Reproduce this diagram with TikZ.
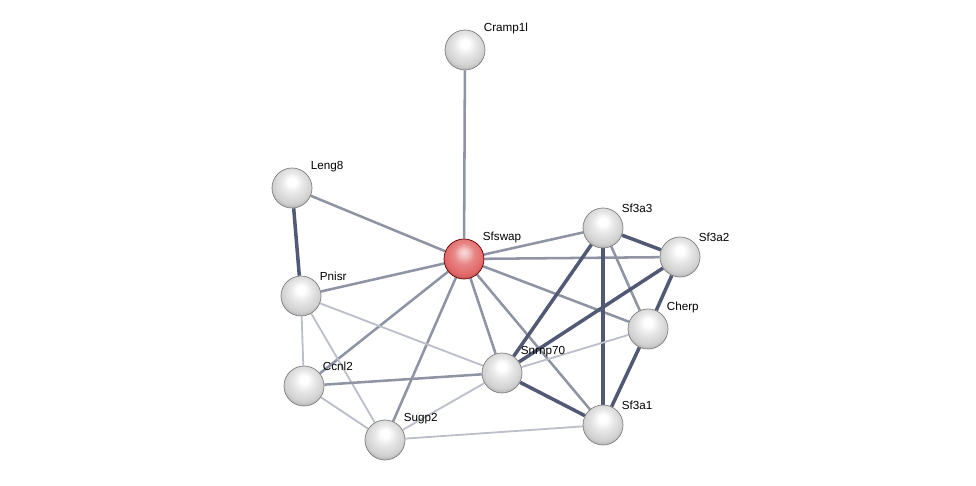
\documentclass[tikz,border=0pt]{standalone}
\usepackage{fontspec}
\setmainfont{Liberation Sans}
\usetikzlibrary{backgrounds}
\definecolor{slate}{RGB}{52,60,92}
\definecolor{redball}{RGB}{226,104,104}
\pgfdeclareradialshading{protball}{\pgfpoint{0bp}{9bp}}{color(0bp)=(white); color(5bp)=(white);
  color(13bp)=(black!9); color(24bp)=(black!18); color(31bp)=(black!34); color(50bp)=(black!48)}
\pgfdeclareradialshading{queryball}{\pgfpoint{0bp}{9bp}}{color(0bp)=(redball!25!white); color(5bp)=(redball!40!white);
  color(13bp)=(redball!80!white); color(24bp)=(redball); color(31bp)=(redball!75!black); color(50bp)=(redball!50!black)}

\begin{document}
\begin{tikzpicture}[x=0.025cm, y=-0.025cm,
prot/.style={circle, minimum size=1cm, inner sep=0pt, draw=black!50, line width=0.5pt, shading=protball,
  label={[lbl]45:#1}},
query/.style={prot=#1, draw=red!40!black, shading=queryball},
lbl/.style={font=\fontsize{8.3}{9}\selectfont, inner sep=1pt, label distance=0.1cm, yshift=-0.08cm},
strong/.style={draw=slate!85, line width=2.5pt},
mid/.style={draw=slate!55, line width=1.8pt},
weak/.style={draw=slate!33, line width=1.3pt}]

\useasboundingbox (0,0) rectangle (976,486);

% proteins
\node [query=Sfswap] (sfswap) at (464,259) {};
\node [prot=Cramp1l] (cramp) at (465,50) {};
\node [prot=Leng8] (leng) at (292,188) {};
\node [prot=Pnisr] (pnisr) at (301,296) {};
\node [prot=Ccnl2] (ccnl) at (304,386) {};
\node [prot=Sugp2] (sugp) at (385,440) {};
\node [prot=Snrnp70] (snrnp) at (502,373) {};
\node [prot=Sf3a3] (sfa3) at (603,228) {};
\node [prot=Sf3a2] (sfa2) at (680,257) {};
\node [prot=Cherp] (cherp) at (648,329) {};
\node [prot=Sf3a1] (sfa1) at (603,425) {};

\begin{pgfonlayer}{background}
% edges from the query
\draw [mid] (sfswap) -- (cramp);
\draw [mid] (sfswap) -- (leng);
\draw [mid] (sfswap) -- (pnisr);
\draw [mid] (sfswap) -- (ccnl);
\draw [mid] (sfswap) -- (sugp);
\draw [mid] (sfswap) -- (snrnp);
\draw [mid] (sfswap) -- (sfa3);
\draw [mid] (sfswap) -- (sfa2);
\draw [mid] (sfswap) -- (cherp);
\draw [mid] (sfswap) -- (sfa1);

% left cluster
\draw [strong] (leng) -- (pnisr);
\draw [weak] (pnisr) -- (ccnl);
\draw [weak] (pnisr) -- (sugp);
\draw [weak] (pnisr) -- (snrnp);
\draw [weak] (ccnl) -- (sugp);
\draw [mid] (ccnl) -- (snrnp);
\draw [weak] (sugp) -- (snrnp);
\draw [weak] (sugp) -- (sfa1);

% splicing factors
\draw [strong] (sfa3) -- (sfa2);
\draw [strong] (sfa3) -- (snrnp);
\draw [strong] (sfa3) -- (sfa1);
\draw [mid] (sfa3) -- (cherp);
\draw [strong] (sfa2) -- (snrnp);
\draw [strong] (sfa2) -- (cherp);
\draw [strong] (cherp) -- (sfa1);
\draw [weak] (cherp) -- (snrnp);
\draw [strong] (snrnp) -- (sfa1);
\end{pgfonlayer}

\end{tikzpicture}
\end{document}
